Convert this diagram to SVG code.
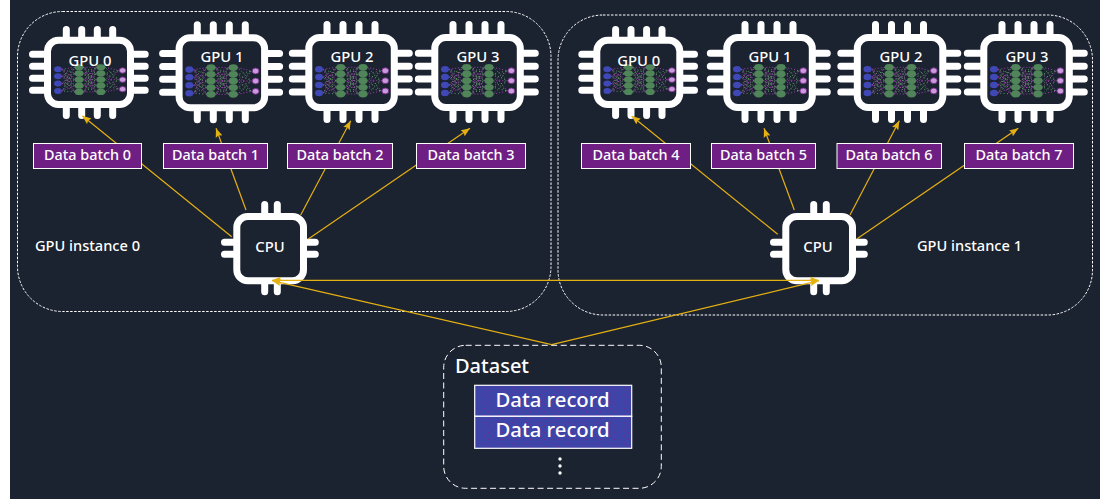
<svg xmlns="http://www.w3.org/2000/svg" width="1110" height="499" viewBox="0 0 1110 499">
<style>
text{font-family:"Noto Sans","Open Sans","Liberation Sans",sans-serif;fill:#fff;font-weight:500}
.frame{fill:none;stroke:#fff;stroke-width:1;stroke-dasharray:2.5 1.5}
.ds{fill:none;stroke:#fff;stroke-width:1;stroke-dasharray:6 3.5}
.body{fill:#1b2230;stroke:#fff;stroke-width:7}
.pin{stroke:#fff;stroke-width:7;stroke-linecap:round;fill:none}
.gl{font-size:14.8px;text-anchor:middle}
.bl{font-size:14.4px;text-anchor:middle}
.il{font-size:14.6px}
.batch{fill:#6f1f83;stroke:#fff;stroke-width:1}
.rec{fill:url(#speck);stroke:#fff;stroke-width:1.2}
.rt{font-size:20.3px;text-anchor:middle}
.cn{fill:none;stroke:#e5b012;stroke-width:1.2}
.a{marker-end:url(#arr)}
.b{fill:#3f48b6}.g{fill:#4f8559}.p{fill:#c79cd8;stroke:#7b2a92;stroke-width:.9}
.d1{fill:none;stroke:#a63fb5;stroke-width:1;stroke-dasharray:1 2}
.d2{fill:none;stroke:#5f9a68;stroke-width:1;stroke-dasharray:1 2.4;stroke-dashoffset:1.5}
</style>
<defs>
<marker id="arr" markerUnits="userSpaceOnUse" markerWidth="10" markerHeight="8" refX="9" refY="4" orient="auto-start-reverse"><path d="M0 0.4L9 4L0 7.6L1.5 4Z" fill="#e5b012"/></marker>
<pattern id="speck" patternUnits="userSpaceOnUse" width="7" height="7"><rect width="7" height="7" fill="#3f44a8"/><rect x="1" y="2" width="1" height="1" fill="#6f2a92"/><rect x="5" y="5" width="1" height="1" fill="#6f2a92"/></pattern>
<g id="net">
<path class="d1" d="M18 35.3L31 33.3M18 35.3L31 46.7M18 35.3L31 60M18 43L31 40M18 43L31 53.3M18 51L31 33.3M18 51L31 46.7M18 51L31 60M18 59L31 40M18 59L31 53.3M40 33.3L53 33.3M40 33.3L53 46.7M40 33.3L53 60M40 40L53 40M40 40L53 53.3M40 46.7L53 33.3M40 46.7L53 46.7M40 46.7L53 60M40 53.3L53 40M40 53.3L53 53.3M40 60L53 33.3M40 60L53 46.7M40 60L53 60M62 33.3L76 36.7M62 40L76 57M62 46.7L76 46.7M62 53.3L76 36.7M62 60L76 57"/>
<path class="d2" d="M18 35.3L31 40M18 35.3L31 53.3M18 43L31 33.3M18 43L31 46.7M18 43L31 60M18 51L31 40M18 51L31 53.3M18 59L31 33.3M18 59L31 46.7M18 59L31 60M40 33.3L53 40M40 33.3L53 53.3M40 40L53 33.3M40 40L53 46.7M40 40L53 60M40 46.7L53 40M40 46.7L53 53.3M40 53.3L53 33.3M40 53.3L53 46.7M40 53.3L53 60M40 60L53 40M40 60L53 53.3M62 33.3L76 46.7M62 40L76 36.7M62 40L76 46.7M62 46.7L76 36.7M62 46.7L76 57M62 53.3L76 46.7M62 53.3L76 57M62 60L76 46.7"/>
<ellipse class="b" cx="13.7" cy="35.3" rx="4" ry="3.3"/><ellipse class="b" cx="13.7" cy="43" rx="4" ry="3.3"/><ellipse class="b" cx="13.7" cy="51" rx="4" ry="3.3"/><ellipse class="b" cx="13.7" cy="59" rx="4" ry="3.3"/>
<ellipse class="g" cx="35.4" cy="33.3" rx="4.6" ry="3.4"/><ellipse class="g" cx="35.4" cy="40" rx="4.6" ry="3.4"/><ellipse class="g" cx="35.4" cy="46.7" rx="4.6" ry="3.4"/><ellipse class="g" cx="35.4" cy="53.3" rx="4.6" ry="3.4"/><ellipse class="g" cx="35.4" cy="60" rx="4.6" ry="3.4"/>
<ellipse class="g" cx="57.7" cy="33.3" rx="4.6" ry="3.4"/><ellipse class="g" cx="57.7" cy="40" rx="4.6" ry="3.4"/><ellipse class="g" cx="57.7" cy="46.7" rx="4.6" ry="3.4"/><ellipse class="g" cx="57.7" cy="53.3" rx="4.6" ry="3.4"/><ellipse class="g" cx="57.7" cy="60" rx="4.6" ry="3.4"/>
<ellipse class="p" cx="80" cy="36.7" rx="3.4" ry="2.9"/><ellipse class="p" cx="80" cy="46.7" rx="3.4" ry="2.9"/><ellipse class="p" cx="80" cy="57" rx="3.4" ry="2.9"/>
</g>
<g id="big">
<path class="pin" d="M21.7 -9.5V4M37.7 -9.5V4M53.7 -9.5V4M69.7 -9.5V4M21.7 73V85.5M37.7 73V85.5M53.7 73V85.5M69.7 73V85.5M-13 19.3H4M-13 32.3H4M-13 45H4M-13 58H4M88 19.3H104M88 32.3H104M88 45H104M88 58H104"/>
<rect class="body" x="3.5" y="3.5" width="85.5" height="70" rx="11"/>
<use href="#net"/>
</g>
<g id="small">
<path class="pin" d="M22.3 -7.2V4M37.7 -7.2V4M53.3 -7.2V4M68.7 -7.2V4M22.3 67V78.8M37.7 67V78.8M53.3 67V78.8M68.7 67V78.8M-11.5 17.6H4M-11.5 29.6H4M-11.5 41.6H4M-11.5 53.6H4M86 17.6H101.2M86 29.6H101.2M86 41.6H101.2M86 53.6H101.2"/>
<rect class="body" x="3.5" y="3.5" width="83" height="64.3" rx="11"/>
<use href="#net" transform="translate(.6 0) scale(.975 .92)"/>
</g>
<g id="cpu">
<path class="pin" d="M31.4 -8.5V4M44 -8.5V4M31.4 68V78.8M44 68V78.8M-8.8 29.3H4M-8.8 41.3H4M70 29.3H82M70 41.3H82"/>
<rect class="body" x="3.5" y="3.5" width="66.7" height="64.3" rx="11"/>
</g>
</defs>
<rect width="1110" height="499" fill="#fff"/>
<rect x="10" y="0" width="1090" height="499" fill="#1b2230"/>

<g id="instance-0"><rect class="frame" x="17.5" y="11.5" width="533.5" height="300" rx="45"/><text class="il" x="35" y="251">GPU instance 0</text></g>
<g id="instance-1"><rect class="frame" x="558" y="15" width="534.5" height="300" rx="45"/><text class="il" x="917" y="251">GPU instance 1</text></g>

<g id="gpu-0-0"><use href="#small" x="44" y="36.7"/><text class="gl" x="90" y="66">GPU 0</text></g>
<g id="gpu-0-1"><use href="#big" x="175.6" y="34.3"/><text class="gl" x="222" y="62">GPU 1</text></g>
<g id="gpu-0-2"><use href="#big" x="305.3" y="34"/><text class="gl" x="352" y="62">GPU 2</text></g>
<g id="gpu-0-3"><use href="#big" x="431.3" y="34"/><text class="gl" x="478" y="62">GPU 3</text></g>
<g id="gpu-1-0"><use href="#small" x="593.3" y="36.7"/><text class="gl" x="638.7" y="66">GPU 0</text></g>
<g id="gpu-1-1"><use href="#big" x="723.3" y="34"/><text class="gl" x="770" y="62">GPU 1</text></g>
<g id="gpu-1-2"><use href="#big" x="853.8" y="34"/><text class="gl" x="901" y="62">GPU 2</text></g>
<g id="gpu-1-3"><use href="#big" x="980.3" y="34"/><text class="gl" x="1027" y="62">GPU 3</text></g>

<g id="cpu-0"><use href="#cpu" x="233.3" y="213"/><text class="gl" x="270" y="252">CPU</text></g>
<g id="cpu-1"><use href="#cpu" x="782.3" y="213"/><text class="gl" x="818" y="252">CPU</text></g>

<g id="connectors">
<line class="cn a" x1="231.7" y1="236.7" x2="82.3" y2="115.7"/>
<line class="cn a" x1="246" y1="210" x2="216" y2="128.3"/>
<line class="cn a" x1="300.7" y1="215" x2="350.7" y2="120.7"/>
<line class="cn a" x1="308.3" y1="239" x2="470" y2="128.3"/>
<line class="cn a" x1="777.7" y1="234.3" x2="631.7" y2="116"/>
<line class="cn a" x1="794.3" y1="210" x2="764" y2="128.3"/>
<line class="cn a" x1="850" y1="215" x2="899.3" y2="120.7"/>
<line class="cn a" x1="856.7" y1="239" x2="1018.3" y2="128.3"/>
<line class="cn" x1="272" y1="280.3" x2="819" y2="280.3" marker-start="url(#arr)" marker-end="url(#arr)"/>
<line class="cn a" x1="551.7" y1="344.7" x2="272" y2="280.6"/>
<line class="cn a" x1="551.7" y1="344.7" x2="819" y2="280.6"/>
</g>

<g id="batch-0"><rect class="batch" x="33.5" y="143.5" width="108" height="25"/><text class="bl" x="87.5" y="160">Data batch 0</text></g>
<g id="batch-1"><rect class="batch" x="163.5" y="143.5" width="104" height="25"/><text class="bl" x="215.5" y="160">Data batch 1</text></g>
<g id="batch-2"><rect class="batch" x="287.5" y="143.5" width="105" height="25"/><text class="bl" x="340" y="160">Data batch 2</text></g>
<g id="batch-3"><rect class="batch" x="416.5" y="143.5" width="109" height="25"/><text class="bl" x="471" y="160">Data batch 3</text></g>
<g id="batch-4"><rect class="batch" x="581.5" y="143.5" width="109" height="25"/><text class="bl" x="636" y="160">Data batch 4</text></g>
<g id="batch-5"><rect class="batch" x="711.5" y="143.5" width="104" height="25"/><text class="bl" x="763.5" y="160">Data batch 5</text></g>
<g id="batch-6"><rect class="batch" x="837" y="143.5" width="104.5" height="25"/><text class="bl" x="889" y="160">Data batch 6</text></g>
<g id="batch-7"><rect class="batch" x="964.5" y="143.5" width="109" height="25"/><text class="bl" x="1019" y="160">Data batch 7</text></g>

<g id="dataset">
<rect class="ds" x="443.7" y="345.3" width="217.6" height="143" rx="22"/>
<text x="455" y="372.5" font-size="20">Dataset</text>
<rect class="rec" x="474.7" y="385.3" width="157" height="31"/>
<rect class="rec" x="474.7" y="416.3" width="157" height="32"/>
<text class="rt" x="552.5" y="407">Data record</text>
<text class="rt" x="552.5" y="437">Data record</text>
<circle cx="560" cy="459" r="1.7" fill="#fff"/><circle cx="560" cy="466" r="1.7" fill="#fff"/><circle cx="560" cy="473" r="1.7" fill="#fff"/>
</g>
</svg>
